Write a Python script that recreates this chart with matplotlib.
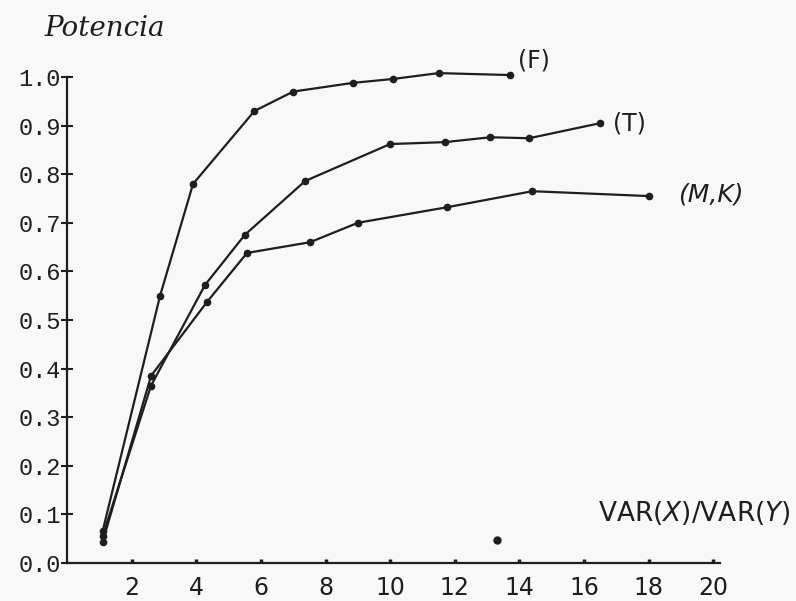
import matplotlib
matplotlib.use("Agg")
import matplotlib.pyplot as plt

# ── data ────────────────────────────────────────────────────────────
x_f = [1.1, 2.88, 3.9, 5.8, 7.0, 8.86, 10.1, 11.5, 13.7]
y_f = [0.065, 0.55, 0.78, 0.93, 0.97, 0.988, 0.996, 1.008, 1.004]

x_t = [1.1, 2.6, 4.27, 5.5, 7.37, 10.0, 11.7, 13.1, 14.3, 16.5]
y_t = [0.055, 0.365, 0.572, 0.675, 0.786, 0.862, 0.866, 0.876, 0.874, 0.905]

x_mk = [1.1, 2.6, 4.33, 5.57, 7.52, 9.0, 11.76, 14.4, 18.0]
y_mk = [0.043, 0.385, 0.537, 0.638, 0.66, 0.70, 0.732, 0.765, 0.755]

stray_x = [13.3]
stray_y = [0.047]

x_ticks = [2, 4, 6, 8, 10, 12, 14, 16, 18, 20]
y_ticks = [0.0, 0.1, 0.2, 0.3, 0.4, 0.5, 0.6, 0.7, 0.8, 0.9, 1.0]

INK = "#1e1e1e"
BG = "#f8f8f8"

fig = plt.figure(figsize=(7.96, 6.01), dpi=100)
fig.patch.set_facecolor(BG)
ax = fig.add_axes([0.0842, 0.0632, 0.820, 0.8087])
ax.set_facecolor(BG)

for xs, ys in [(x_f, y_f), (x_t, y_t), (x_mk, y_mk)]:
    ax.plot(xs, ys, color=INK, lw=1.6, marker="o", ms=4.5,
            clip_on=False, zorder=3)
ax.plot(stray_x, stray_y, "o", color=INK, ms=5, clip_on=False)

# curve labels
ax.text(x_f[-1] + 0.25, y_f[-1] + 0.03, "(F)", fontsize=17,
        family="DejaVu Sans", color=INK, ha="left", va="center")
ax.text(x_t[-1] + 0.4, y_t[-1], "(T)", fontsize=17,
        family="DejaVu Sans", color=INK, ha="left", va="center")
ax.text(x_mk[-1] + 0.9, y_mk[-1] + 0.003, "(M,K)", fontsize=18,
        family="DejaVu Sans", style="italic", color=INK,
        ha="left", va="center")

# axes decorations
ax.set_xlim(0, 20.2)
ax.set_ylim(0, 1.0)
for side in ("top", "right"):
    ax.spines[side].set_visible(False)
for side in ("left", "bottom"):
    ax.spines[side].set_color(INK)
    ax.spines[side].set_linewidth(1.6)

ax.set_xticks(x_ticks)
ax.set_yticks(y_ticks)
ax.set_yticklabels([f"{v:.1f}" for v in y_ticks])
ax.tick_params(axis="y", direction="inout", length=9, width=1.5,
               colors=INK, labelsize=17, pad=0)
ax.tick_params(axis="x", direction="in", length=3, width=2.5,
               colors=INK, labelsize=17, pad=9)
for lbl in ax.get_yticklabels():
    lbl.set_family("Liberation Mono")
for lbl in ax.get_xticklabels():
    lbl.set_family("DejaVu Sans")

fig.text(0.056, 0.953, "Potencia", fontsize=20, style="italic",
         family="DejaVu Serif", color=INK, ha="left", va="center")
fig.text(0.994, 0.146, r"VAR($X$)/VAR($Y$)", fontsize=19,
         family="DejaVu Sans", color=INK, ha="right", va="center")

fig.savefig("out.png", dpi=100, facecolor=BG)
